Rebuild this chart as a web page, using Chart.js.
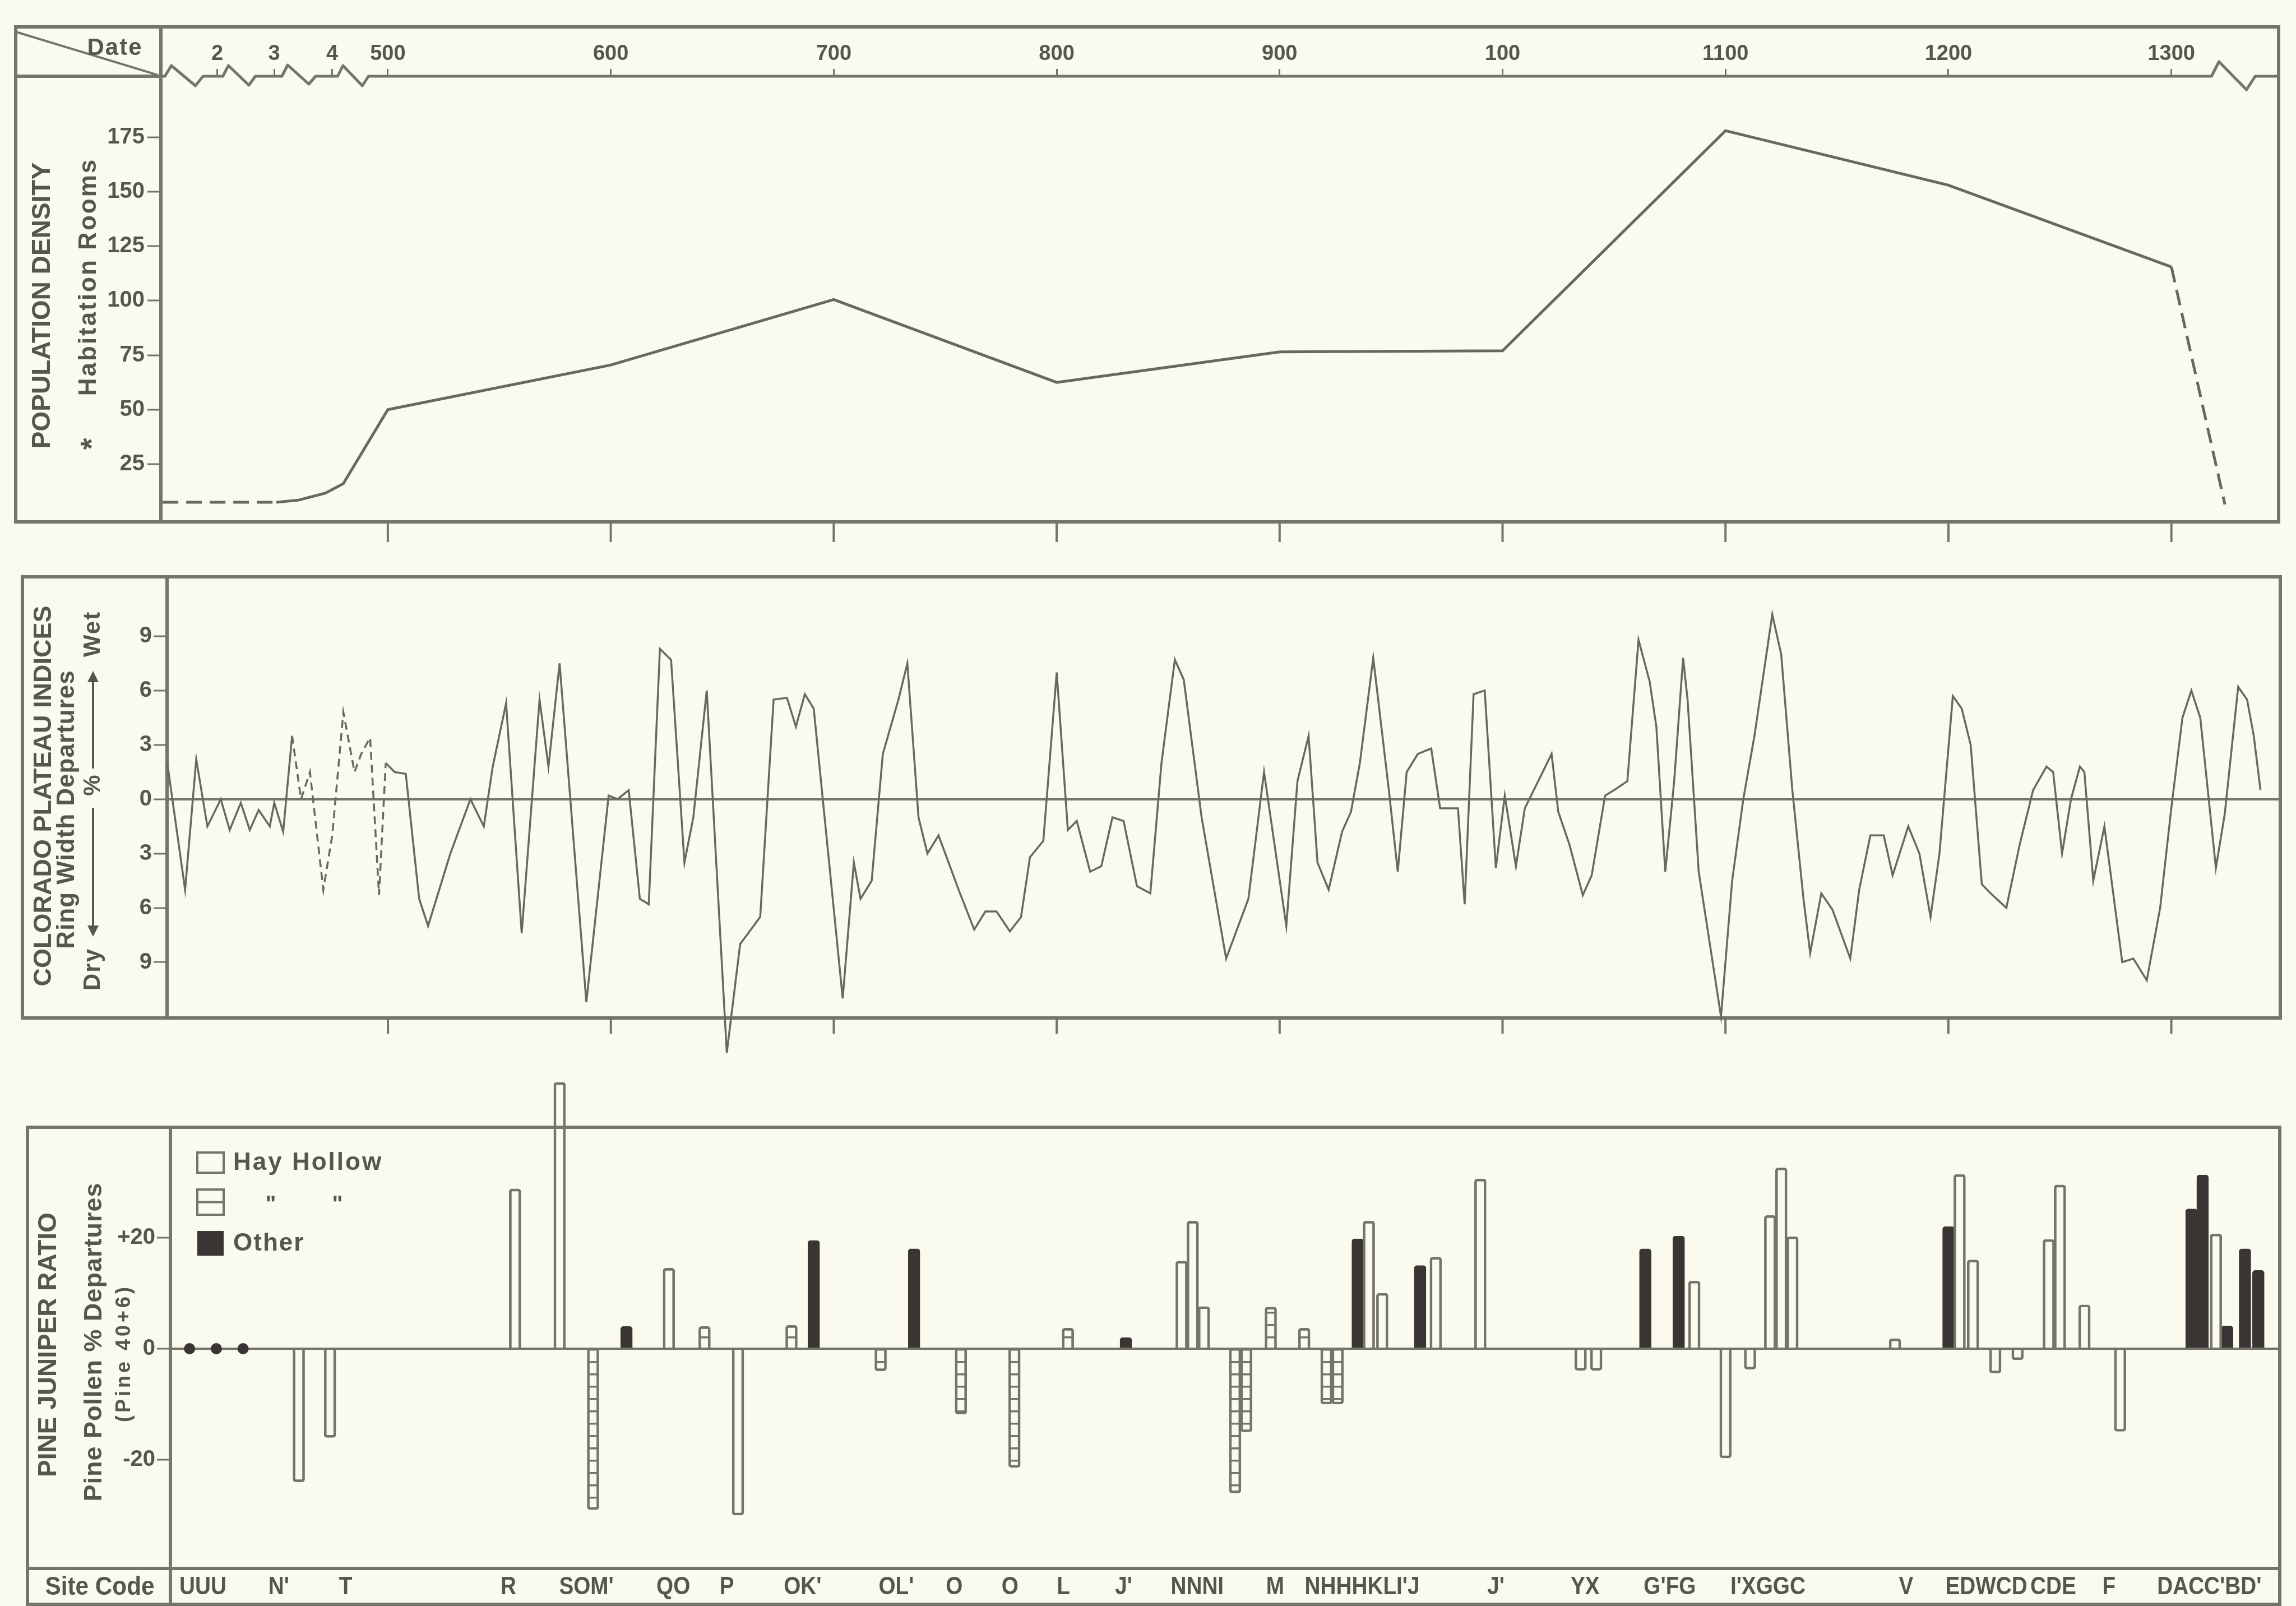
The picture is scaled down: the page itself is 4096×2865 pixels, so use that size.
<!DOCTYPE html>
<html><head><meta charset="utf-8">
<script src="https://cdn.jsdelivr.net/npm/chart.js@4.4.1/dist/chart.umd.min.js"></script>
<style>
html,body{margin:0;padding:0;background:rgb(250,250,238);}
body{width:4096px;height:2865px;position:relative;overflow:hidden;}
canvas{position:absolute;left:0;}
</style></head><body>
<canvas id="c1" width="4096" height="990" style="top:0px"></canvas>
<canvas id="c2" width="4096" height="910" style="top:990px"></canvas>
<canvas id="c3" width="4096" height="965" style="top:1900px"></canvas>
<script>
// ---------------- DATA ----------------
const dateTickYears  = [423.5, 449, 475, 500, 600, 700, 800, 900, 1000, 1100, 1200, 1300];
const dateTickLabels = ["2", "3", "4", "500", "600", "700", "800", "900", "100", "1100", "1200", "1300"];
const centuryTicks   = [500, 600, 700, 800, 900, 1000, 1100, 1200, 1300];

const popYears = [399, 450, 460, 472, 480, 500, 600, 700, 800, 900, 1000, 1100, 1200, 1300, 1324];
const popRooms = [7.5, 7.5, 8.5, 11.7, 16, 50, 70.5, 100.5, 62.5, 76.5, 77, 178, 153, 115.5, 6.5];
const popTicks = [25, 50, 75, 100, 125, 150, 175];

const ringYears = [401,409,414,419,425,429,434,438,442,447,449,453,457,461,465,471,475,480,485,488,492,496,499,503,508,514,518,528,537,543,547,553,560,568,572,577,589,599,603,608,613,617,622,627,633,637,643,652,658,667,673,679,683,687,691,704,709,712,717,722,729,733,738,742,747,756,763,768,773,779,784,788,794,800,805,809,815,820,825,830,836,842,847,853,857,865,876,886,893,903,908,913,917,922,928,932,936,942,949,953,957,962,968,972,980,983,987,992,997,1001,1006,1010,1016,1022,1025,1030,1036,1040,1046,1050,1056,1061,1066,1069,1073,1077,1081,1083,1088,1098,1103,1108,1113,1121,1125,1130,1135,1138,1143,1148,1156,1160,1165,1171,1175,1182,1187,1192,1196,1202,1206,1210,1215,1219,1226,1232,1238,1244,1247,1251,1255,1259,1261,1265,1270,1278,1283,1289,1295,1300,1305,1309,1313,1320,1324,1330,1334,1337,1340];
const ringIndex = [2.0,-5.0,2.2,-1.5,0.0,-1.7,-0.2,-1.7,-0.6,-1.5,-0.2,-1.8,3.5,0.0,1.5,-5.0,-2.0,4.8,1.5,2.5,3.4,-5.3,2.0,1.5,1.4,-5.5,-7.0,-3.0,0.0,-1.5,1.8,5.3,-7.4,5.5,1.8,7.5,-11.2,0.2,0.0,0.5,-5.5,-5.8,8.3,7.7,-3.5,-1.0,6.0,-14.0,-8.0,-6.5,5.5,5.6,4.0,5.8,5.0,-11.0,-3.5,-5.5,-4.5,2.5,5.5,7.5,-1.0,-3.0,-2.0,-5.0,-7.2,-6.2,-6.2,-7.3,-6.5,-3.2,-2.3,7.0,-1.7,-1.2,-4.0,-3.7,-1.0,-1.2,-4.8,-5.2,2.0,7.7,6.6,-1.0,-8.8,-5.5,1.5,-7.0,1.0,3.5,-3.5,-5.0,-1.8,-0.7,2.0,7.8,0.5,-4.0,1.5,2.5,2.8,-0.5,-0.5,-5.8,5.8,6.0,-3.8,0.2,-3.7,-0.5,1.0,2.5,-0.7,-2.5,-5.3,-4.2,0.2,0.5,1.0,8.8,6.5,4.0,-4.0,1.0,7.8,5.5,-4.0,-12.0,-4.5,0.0,3.5,10.2,8.0,0.5,-5.5,-8.5,-5.2,-6.1,-8.8,-5.0,-2.0,-2.0,-4.2,-1.5,-3.0,-6.5,-3.0,5.7,5.0,3.0,-4.7,-5.2,-6.0,-2.5,0.5,1.8,1.5,-3.0,0.0,1.8,1.5,-4.5,-1.5,-9.0,-8.8,-10.0,-6.0,-0.5,4.5,6.0,4.5,-3.8,-0.8,6.2,5.5,3.5,0.5];
const ringTicks = [-9, -6, -3, 0, 3, 6, 9];

const hayYears  = [460, 474, 557, 577, 626, 657, 856, 861, 866, 940, 946, 970, 990, 1035, 1042, 1086, 1100, 1111, 1120, 1125, 1130, 1176, 1205, 1211, 1221, 1231, 1245, 1250, 1261, 1277, 1320];
const hayValues = [-24, -16, 28.8, 48, 14.5, -30, 15.8, 23, 7.6, 23, 10, 16.5, 30.6, -3.9, -3.9, 12.2, -19.7, -3.7, 24, 32.6, 20.2, 1.8, 31.4, 16, -4.4, -2, 19.7, 29.5, 7.9, -14.9, 20.7];
const hayGridYears  = [592, 642, 681, 721, 757, 781, 805, 880, 885, 896, 911, 921, 926];
const hayGridValues = [-29, 4, 4.2, -4, -11.8, -21.4, 3.7, -26, -15, 7.5, 3.7, -10, -10];
const otherYears  = [607, 691, 736, 831, 935, 963, 1064, 1079, 1200, 1309, 1314, 1325, 1333, 1339];
const otherValues = [4, 19.5, 18, 2, 19.8, 15, 18, 20.3, 22, 25.2, 31.3, 4.1, 18, 14.1];
const zeroSiteYears  = [411, 423, 435];
const zeroSiteValues = [0, 0, 0];
const pineTicks = [-20, 0, 20];

const siteCodes     = ["UUU","N'","T","R","SOM'","QO","P","OK'","OL'","O","O","L","J'","NNNI","M","NHHHKLI'J","J'","YX","G'FG","I'XGGC","V","EDWCD","CDE","F","DACC'BD'"];
const siteCodeYears = [417, 451, 481, 554, 589, 628, 652, 686, 728, 754, 779, 803, 830, 863, 898, 937, 997, 1037, 1075, 1119, 1181, 1217, 1247, 1272, 1317];

// ---------------- STYLE / LAYOUT ----------------
const TEXT = 'rgb(86,86,80)', LINE = 'rgb(116,116,108)', DATA = 'rgb(104,104,97)', DARK = 'rgb(56,53,50)';
const FF = '"Liberation Sans", Arial, Helvetica, sans-serif';
Chart.defaults.font.family = FF;
Chart.defaults.font.weight = 'bold';
Chart.defaults.color = TEXT;

const P1 = {canvasTop:0, canvasH:990, left:287, right:4065, top:136, bottom:931, frameLeft:28, headerTop:48, xmin:398.2, xmax:1348.1};
const P2 = {canvasTop:990, canvasH:910, left:298, right:4068, top:1029, bottom:1816, frameLeft:40, xmin:400.9, xmax:1348.9};
const P3 = {canvasTop:1900, canvasH:965, left:304, right:4067, top:2011, bottom:2798, frameLeft:49, rowBottom:2862, xmin:402.4, xmax:1348.6};
const HEADER_BREAKS = [{year:400, w:68, up:19, down:17}, {year:426, w:58, up:19, down:16}, {year:452.5, w:60, up:20, down:14}, {year:477.5, w:55, up:19, down:17}, {year:1318, w:78, up:26, down:24}];

function zip(xs, ys){ return xs.map((x,i)=>({x:x, y:ys[i]})); }
function poly(ctx, pts){ ctx.beginPath(); ctx.moveTo(pts[0][0], pts[0][1]); for (let i=1;i<pts.length;i++) ctx.lineTo(pts[i][0], pts[i][1]); ctx.stroke(); }
function vtext(ctx, t, x, y, size, sp){
  ctx.save(); ctx.translate(x, y); ctx.rotate(-Math.PI/2);
  ctx.font = 'bold ' + size + 'px ' + FF; ctx.fillStyle = TEXT; ctx.textAlign = 'center'; ctx.textBaseline = 'middle';
  ctx.letterSpacing = (sp || 0) + 'px';
  ctx.fillText(t, 0, 0); ctx.restore();
}
function htext(ctx, t, x, y, size, opts){
  opts = opts || {};
  ctx.save(); ctx.translate(x, y); ctx.scale(opts.h || 1, 1);
  ctx.font = 'bold ' + size + 'px ' + FF; ctx.fillStyle = opts.color || TEXT;
  ctx.textAlign = opts.align || 'center'; ctx.textBaseline = 'middle';
  ctx.letterSpacing = (opts.sp || 0) + 'px';
  ctx.fillText(t, 0, 0); ctx.restore();
}

function yAxis(P, min, max, ticks, o){
  return {
    type:'linear', position:'left', min:min, max:max,
    afterBuildTicks: s => { s.ticks = ticks.map(v => ({value:v})); },
    afterFit: s => { s.width = P.left; },
    border:{display:false},
    grid:{drawOnChartArea: !!o.zero, color: c => (c.tick && c.tick.value === 0) ? LINE : 'rgba(0,0,0,0)', lineWidth:4,
          drawTicks:true, tickLength:o.tl, tickWidth:3, tickColor:LINE},
    ticks:{padding:o.pad, font:{size:40, weight:'bold'}, color:TEXT, callback:o.cb}
  };
}
const common = {responsive:false, maintainAspectRatio:false, animation:false, devicePixelRatio:1, events:[],
  plugins:{legend:{display:false}, tooltip:{enabled:false}}};

// ---------------- PANEL 1 : POPULATION ----------------
const frame1 = {id:'frame1', beforeDatasetsDraw(chart){
  const ctx = chart.ctx, ca = chart.chartArea, xs = chart.scales.x;
  const L0 = P1.frameLeft, T0 = P1.headerTop, A = ca.left, R = ca.right, H = ca.top, B = ca.bottom;
  ctx.save(); ctx.strokeStyle = LINE; ctx.lineCap = 'square'; ctx.lineJoin = 'miter'; ctx.lineWidth = 6;
  poly(ctx, [[L0,T0],[R,T0]]);
  poly(ctx, [[L0,T0],[L0,B],[R,B],[R,T0]]);
  poly(ctx, [[A,T0],[A,B]]);
  poly(ctx, [[L0,H],[A,H]]);
  const pts = [[A,H]];
  HEADER_BREAKS.forEach(b => { const bx = xs.getPixelForValue(b.year);
    pts.push([bx,H],[bx+0.17*b.w,H-b.up],[bx+0.8*b.w,H+b.down],[bx+b.w,H]); });
  pts.push([R,H]);
  ctx.lineWidth = 5; ctx.lineJoin = 'round'; poly(ctx, pts);
  ctx.lineWidth = 4; poly(ctx, [[L0+4,T0+10],[A-8,H-3]]);
  ctx.lineWidth = 4;
  centuryTicks.forEach(v => { const x = xs.getPixelForValue(v); poly(ctx, [[x,B],[x,B+34]]); });
  ctx.restore();
  htext(ctx, 'Date', 205, 86, 42, {sp:2});
  vtext(ctx, 'POPULATION DENSITY', 76, 545, 46, 0);
  vtext(ctx, 'Habitation Rooms', 159, 494, 44, 3);
  vtext(ctx, '*', 166, 792, 54, 0);
}};
new Chart(document.getElementById('c1'), {
  type:'line',
  data:{datasets:[{data: zip(popYears, popRooms), borderColor:DATA, borderWidth:5, pointRadius:0, tension:0, fill:false,
    segment:{borderDash: c => (c.p0.parsed.x < 450 || c.p0.parsed.x >= 1300) ? [28,14] : undefined}}]},
  options: Object.assign({}, common, {
    layout:{autoPadding:false, padding:{left:0, right:4096-P1.right, top:0, bottom:P1.canvasH-P1.bottom}},
    scales:{
      x:{type:'linear', position:'top', min:P1.xmin, max:P1.xmax, offset:false,
         afterBuildTicks: s => { s.ticks = dateTickYears.map(v => ({value:v})); },
         afterFit: s => { s.height = P1.top - P1.canvasTop; },
         border:{display:false},
         grid:{drawOnChartArea:false, drawTicks:true, tickLength:13, tickWidth:3, tickColor:LINE, color:LINE},
         ticks:{autoSkip:false, maxRotation:0, minRotation:0, padding:4, font:{size:38, weight:'bold'}, color:TEXT,
                callback:(v,i) => dateTickLabels[i]}},
      y: yAxis(P1, -1.5, 203, popTicks, {zero:false, tl:24, pad:5})
    }
  }),
  plugins:[frame1]
});

// ---------------- PANEL 2 : TREE RING ----------------
const frame2 = {id:'frame2', beforeDatasetsDraw(chart){
  const ctx = chart.ctx, ca = chart.chartArea, xs = chart.scales.x;
  const L0 = P2.frameLeft, A = ca.left, R = ca.right, T = ca.top, B = ca.bottom;
  ctx.save(); ctx.strokeStyle = LINE; ctx.lineCap = 'square'; ctx.lineWidth = 6;
  poly(ctx, [[L0,T],[R,T],[R,B],[L0,B],[L0,T]]);
  poly(ctx, [[A,T],[A,B]]);
  ctx.lineWidth = 4;
  centuryTicks.forEach(v => { const x = xs.getPixelForValue(v); poly(ctx, [[x,B],[x,B+26]]); });
  ctx.restore();
  const o = P2.canvasTop;
  vtext(ctx, 'COLORADO PLATEAU INDICES', 79, 1420 - o, 45, 0);
  vtext(ctx, 'Ring Width Departures', 120, 1444 - o, 44, 1);
  // Dry <- % -> Wet
  ctx.save(); ctx.translate(166, 1400 - o); ctx.rotate(-Math.PI/2);
  ctx.font = 'bold 42px ' + FF; ctx.fillStyle = TEXT; ctx.textAlign = 'center'; ctx.textBaseline = 'middle';
  ctx.letterSpacing = '2px';
  ctx.fillText('Wet', 269, 0); ctx.fillText('Dry', -329, 0); ctx.fillText('%', 0, 0);
  ctx.strokeStyle = TEXT; ctx.lineWidth = 4;
  poly(ctx, [[29,0],[190,0]]); poly(ctx, [[-41,0],[-258,0]]);
  ctx.beginPath(); ctx.moveTo(203,0); ctx.lineTo(183,-10); ctx.lineTo(183,10); ctx.closePath(); ctx.fill();
  ctx.beginPath(); ctx.moveTo(-271,0); ctx.lineTo(-251,-10); ctx.lineTo(-251,10); ctx.closePath(); ctx.fill();
  ctx.restore();
}};
new Chart(document.getElementById('c2'), {
  type:'line',
  data:{datasets:[{data: zip(ringYears, ringIndex), borderColor:DATA, borderWidth:3.5, pointRadius:0, tension:0, fill:false, clip:false,
    segment:{borderDash: c => (c.p0.parsed.x >= 455 && c.p1.parsed.x <= 500) ? [14,9] : undefined}}]},
  options: Object.assign({}, common, {
    layout:{autoPadding:false, padding:{left:0, right:4096-P2.right, top:P2.top-P2.canvasTop, bottom:P2.canvasTop+P2.canvasH-P2.bottom}},
    scales:{
      x:{type:'linear', display:false, min:P2.xmin, max:P2.xmax, offset:false},
      y: yAxis(P2, -12.08, 12.28, ringTicks, {zero:true, tl:24, pad:3, cb: v => String(Math.abs(v))})
    }
  }),
  plugins:[frame2]
});

// ---------------- PANEL 3 : PINE / JUNIPER ----------------
const pc = document.createElement('canvas'); pc.width = 8; pc.height = 22;
const pctx = pc.getContext('2d'); pctx.fillStyle = LINE; pctx.fillRect(0, 0, 8, 3.5);
const gridPattern = pctx.createPattern(pc, 'repeat');

const frame3 = {id:'frame3', beforeDatasetsDraw(chart){
  const ctx = chart.ctx, ca = chart.chartArea, xs = chart.scales.x, o = P3.canvasTop;
  const L0 = P3.frameLeft, A = ca.left, R = ca.right, T = ca.top, B = ca.bottom, RB = P3.rowBottom - o;
  ctx.save(); ctx.strokeStyle = LINE; ctx.lineCap = 'square'; ctx.lineWidth = 6;
  poly(ctx, [[L0,T],[R,T],[R,RB],[L0,RB],[L0,T]]);
  poly(ctx, [[L0,B],[R,B]]);
  poly(ctx, [[A,T],[A,RB]]);
  // legend
  ctx.lineWidth = 4; ctx.strokeStyle = LINE;
  ctx.strokeRect(352, 2056 - o, 47, 36);
  ctx.strokeRect(352, 2122 - o, 47, 45);
  poly(ctx, [[352, 2144.5 - o],[399, 2144.5 - o]]);
  ctx.fillStyle = DARK; ctx.fillRect(352, 2196 - o, 47, 44);
  ctx.restore();
  htext(ctx, 'Hay Hollow', 416, 2075 - o, 44, {align:'left', sp:3});
  htext(ctx, '"', 483, 2150 - o, 40, {});
  htext(ctx, '"', 602, 2150 - o, 40, {});
  htext(ctx, 'Other', 416, 2219 - o, 44, {align:'left', sp:2});
  // titles
  vtext(ctx, 'PINE JUNIPER RATIO', 87, 2399 - o, 46, 0);
  vtext(ctx, 'Pine Pollen % Departures', 169, 2394 - o, 45, 1);
  vtext(ctx, '(Pine 40+6)', 222, 2414 - o, 36, 5);
  // site codes
  htext(ctx, 'Site Code', 178, 2832 - o, 46, {h:0.92});
  siteCodes.forEach((s, i) => htext(ctx, s, xs.getPixelForValue(siteCodeYears[i]), 2832 - o, 44, {h:0.88}));
}};
const barCommon = {barThickness:21, grouped:false, clip:false, borderSkipped:'start', borderRadius:5};
new Chart(document.getElementById('c3'), {
  type:'bar',
  data:{datasets:[
    Object.assign({label:'Hay Hollow', data: zip(hayYears, hayValues), backgroundColor:'rgba(0,0,0,0)', borderColor:LINE, borderWidth:4}, barCommon),
    Object.assign({label:'Hay Hollow (grid)', data: zip(hayGridYears, hayGridValues), backgroundColor:gridPattern, borderColor:LINE, borderWidth:4}, barCommon),
    Object.assign({label:'Other', data: zip(otherYears, otherValues), backgroundColor:DARK, borderColor:DARK, borderWidth:2}, barCommon),
    {type:'line', label:'Other (zero)', data: zip(zeroSiteYears, zeroSiteValues), showLine:false, pointRadius:10, pointBackgroundColor:DARK, pointBorderWidth:0, clip:false}
  ]},
  options: Object.assign({}, common, {
    layout:{autoPadding:false, padding:{left:0, right:4096-P3.right, top:P3.top-P3.canvasTop, bottom:P3.canvasTop+P3.canvasH-P3.bottom}},
    scales:{
      x:{type:'linear', display:false, min:P3.xmin, max:P3.xmax, offset:false, grid:{offset:false}},
      y: yAxis(P3, -39.6, 39.9, pineTicks, {zero:true, tl:24, pad:3, cb: v => v > 0 ? '+' + v : String(v)})
    }
  }),
  plugins:[frame3]
});
</script>
</body></html>
